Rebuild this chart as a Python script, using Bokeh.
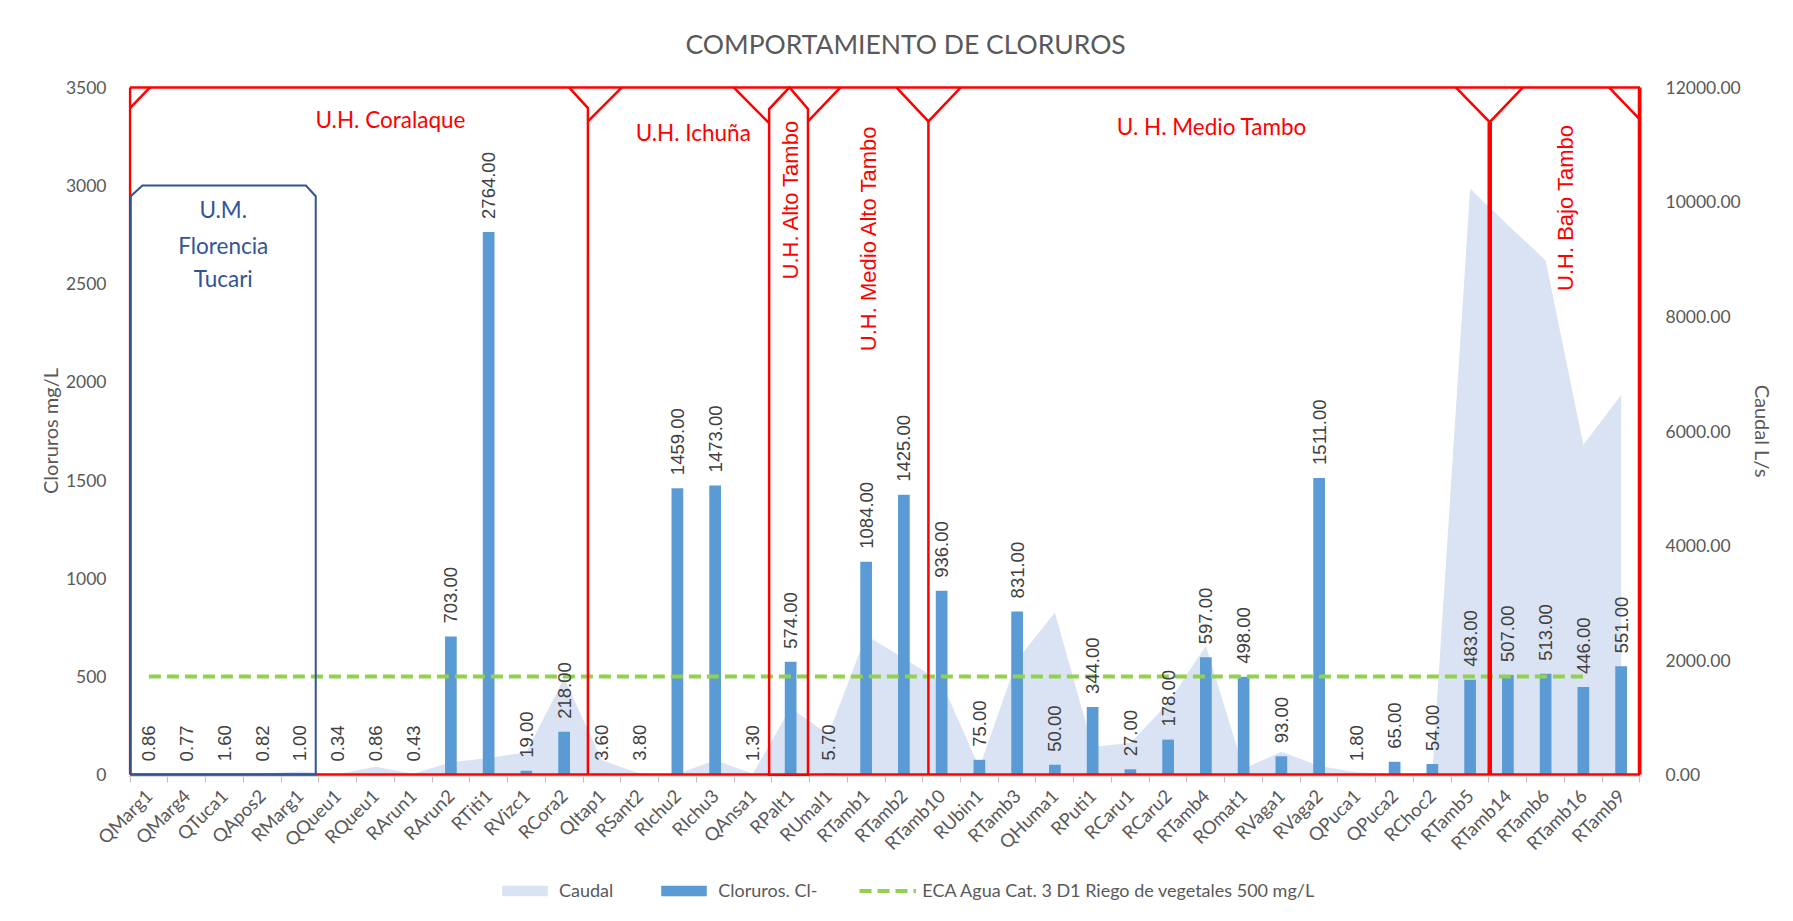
import math
from bokeh.plotting import figure
from bokeh.layouts import column
from bokeh.models import (Range1d, LinearAxis, FixedTicker, NumeralTickFormatter,
                          Legend, LegendItem, Title)
from bokeh.core.properties import value
from bokeh.embed import file_html
from bokeh.resources import INLINE

# ---------------- data ----------------
stations = ["QMarg1", "QMarg4", "QTuca1", "QApos2", "RMarg1", "QQueu1", "RQueu1", "RArun1",
            "RArun2", "RTiti1", "RVizc1", "RCora2", "QItap1", "RSant2", "RIchu2", "RIchu3",
            "QAnsa1", "RPalt1", "RUmal1", "RTamb1", "RTamb2", "RTamb10", "RUbin1", "RTamb3",
            "QHuma1", "RPuti1", "RCaru1", "RCaru2", "RTamb4", "ROmat1", "RVaga1", "RVaga2",
            "QPuca1", "QPuca2", "RChoc2", "RTamb5", "RTamb14", "RTamb6", "RTamb16", "RTamb9"]

cloruros = [0.86, 0.77, 1.60, 0.82, 1.00, 0.34, 0.86, 0.43,
            703.00, 2764.00, 19.00, 218.00, 3.60, 3.80, 1459.00, 1473.00,
            1.30, 574.00, 5.70, 1084.00, 1425.00, 936.00, 75.00, 831.00,
            50.00, 344.00, 27.00, 178.00, 597.00, 498.00, 93.00, 1511.00,
            1.80, 65.00, 54.00, 483.00, 507.00, 513.00, 446.00, 551.00]

caudal = [5, 5, 5, 20, 55, 5, 135, 15,
          215, 290, 390, 1680, 250, 20, 10, 250,
          15, 1160, 700, 2430, 2030, 1610, 120, 2000,
          2830, 480, 550, 1250, 2250, 100, 400, 150,
          40, 10, 30, 10230, 9600, 8980, 5760, 6630]

eca = [500, 500, 500, 500, 500, 500, 500, 500, 500, 500,
       500, 500, 500, 500, 500, 500, 500, 500, 500, 500,
       500, 500, 500, 500, 500, 500, 500, 500, 500, 500,
       500, 500, 500, 500, 500, 500, 500, 500, 500, float("nan")]

left_ticks = [0, 500, 1000, 1500, 2000, 2500, 3000, 3500]
right_ticks = [0, 2000, 4000, 6000, 8000, 10000, 12000]

# ---------------- styles ----------------
CAL = "Lato"
GREY = "#595959"
RED = "#FF0000"
BLUE = "#2F5597"
AREA_C = "#DAE3F3"
BAR_C = "#5B9BD5"
ECA_C = "#92D050"

n = len(stations)
xs = [i + 0.5 for i in range(n)]
labels = ["%.2f" % v for v in cloruros]

W = 1777
LB = 128
y0, y1 = -10, 3510
p = figure(width=W, height=875, output_backend="svg", toolbar_location=None,
           x_range=Range1d(-0.04, n + 0.04), y_range=Range1d(y0, y1),
           min_border_left=LB, min_border_right=134, min_border_top=84,
           min_border_bottom=99, background_fill_color="white",
           border_fill_color="white")
p.outline_line_color = None
p.grid.visible = False
p.extra_y_ranges = {"caudal": Range1d(y0 * 12000 / 3500, y1 * 12000 / 3500)}

# title
t = Title(text="COMPORTAMIENTO DE CLORUROS", align="left", offset=557,
          text_font=CAL, text_font_size="26.5px", text_font_style="normal",
          text_color=GREY, standoff=51)
p.add_layout(t, "above")

# x axis
xa = p.xaxis[0]
xa.ticker = FixedTicker(ticks=xs, minor_ticks=list(range(n + 1)))
xa.major_label_overrides = {x: s for x, s in zip(xs, stations)}
xa.major_label_orientation = math.pi / 4
xa.major_tick_line_color = None
xa.minor_tick_in = 0
xa.minor_tick_out = 6
xa.minor_tick_line_color = "#BFBFBF"
xa.axis_line_color = "#D9D9D9"
xa.major_label_text_font = CAL
xa.major_label_text_font_size = "18.5px"
xa.major_label_text_color = GREY
xa.major_label_standoff = 10

# left axis
ya = p.yaxis[0]
ya.ticker = FixedTicker(ticks=left_ticks)
ya.axis_line_color = None
ya.major_tick_line_color = None
ya.minor_tick_line_color = None
ya.major_label_text_font = CAL
ya.major_label_text_font_size = "17.5px"
ya.major_label_text_color = GREY
ya.major_label_standoff = 16
ya.axis_label = "Cloruros mg/L"
ya.axis_label_text_font = CAL
ya.axis_label_text_font_size = "20px"
ya.axis_label_text_font_style = "normal"
ya.axis_label_text_color = GREY
ya.axis_label_standoff = 1

# right axis
ra = LinearAxis(y_range_name="caudal", ticker=FixedTicker(ticks=right_ticks),
                formatter=NumeralTickFormatter(format="0.00"))
ra.axis_line_color = None
ra.major_tick_line_color = None
ra.minor_tick_line_color = None
ra.major_label_text_font = CAL
ra.major_label_text_font_size = "17.5px"
ra.major_label_text_color = GREY
ra.major_label_standoff = 18
ra.axis_label = "Caudal L/s"
ra.axis_label_text_font = CAL
ra.axis_label_text_font_size = "20px"
ra.axis_label_text_font_style = "normal"
ra.axis_label_text_color = GREY
ra.axis_label_standoff = 7
p.add_layout(ra, "right")

# series
p.varea(x=xs, y1=[0] * n, y2=caudal, y_range_name="caudal", fill_color=AREA_C)
p.vbar(x=xs, top=cloruros, width=0.31, fill_color=BAR_C, line_color=None)
p.line(x=xs, y=eca, line_color=ECA_C, line_width=4, line_dash="12 6")

p.text(x=xs, y=cloruros, text=labels, angle=math.pi / 2, text_align="left",
       text_baseline="middle", y_offset=-13, text_font=value("Liberation Sans"),
       text_font_size="18.5px", text_color="#404040")

# ---------------- hydrographic unit boxes ----------------
thin_lines = [
    ([0, n], [3500, 3500]),
    ([0, 0], [3500, 0]),
    ([0, n], [0, 0]),
    ([0, 0.53], [3395, 3500]),
    ([11.63, 12.13, 12.13], [3500, 3395, 0]),
    ([12.13, 13.03], [3327, 3500]),
    ([15.99, 16.93], [3500, 3318]),
    ([16.93, 16.93, 17.47, 17.96, 17.96, 16.93, 16.93],
     [-5, 3390, 3500, 3390, -5, -5, 3390]),
    ([17.96, 18.82], [3327, 3500]),
    ([20.30, 21.15, 22.01], [3500, 3327, 3500]),
    ([21.15, 21.15], [3327, 0]),
    ([35.12, 36.02, 36.90], [3500, 3323, 3500]),
    ([39.18, n], [3500, 3336]),
]
p.multi_line(xs=[l[0] for l in thin_lines], ys=[l[1] for l in thin_lines],
             line_color=RED, line_width=2.5, line_join="miter")
thick_lines = [
    ([36.02, 36.02], [3323, 0]),
    ([n, n], [3500, 0]),
]
p.multi_line(xs=[l[0] for l in thick_lines], ys=[l[1] for l in thick_lines],
             line_color=RED, line_width=4.5)

p.line(x=[0.02, 0.02, 0.33, 4.66, 4.92, 4.92, 0.02],
       y=[0, 2946, 3000, 3000, 2946, 0, 0], line_color=BLUE, line_width=2,
       line_join="miter")

# unit labels
p.text(x=[6.9, 14.92, 28.66], y=[3337, 3271, 3303],
       text=["U.H. Coralaque", "U.H. Ichuña", "U. H. Medio Tambo"],
       text_align="center", text_baseline="middle", text_font=value(CAL),
       text_font_size="22.5px", text_color=RED)
p.text(x=[17.49, 19.56, 38.03], y=[2930, 2733, 2887],
       text=["U.H. Alto Tambo", "U.H. Medio Alto Tambo", "U.H. Bajo Tambo"],
       angle=math.pi / 2, text_align="center", text_baseline="middle",
       text_font=value("Liberation Sans"), text_font_size="22px", text_color=RED)
p.text(x=[2.47, 2.47, 2.47], y=[2880, 2695, 2525],
       text=["U.M.", "Florencia", "Tucari"],
       text_align="center", text_baseline="middle", text_font=value(CAL),
       text_font_size="22.5px", text_color=BLUE)

# ---------------- legend strip ----------------
lg = figure(width=W, height=35, output_backend="svg", toolbar_location=None,
            x_range=Range1d(0, 1), y_range=Range1d(0, 1), min_border=0,
            background_fill_color="white", border_fill_color="white")
lg.outline_line_color = None
lg.axis.visible = False
lg.grid.visible = False
# legend-only swatches, kept outside the visible range of the strip
l_area = lg.varea(x=[5, 6], y1=[5, 5], y2=[6, 6], fill_color=AREA_C)
l_bar = lg.vbar(x=[5], top=[6], bottom=5, width=0.3, fill_color=BAR_C, line_color=None)
l_eca = lg.line(x=[5, 6], y=[5, 5], line_color=ECA_C, line_width=4, line_dash="12 6")
legend = Legend(items=[LegendItem(label="Caudal", renderers=[l_area]),
                       LegendItem(label="Cloruros. Cl-", renderers=[l_bar]),
                       LegendItem(label="ECA Agua Cat. 3 D1 Riego de vegetales 500 mg/L",
                                  renderers=[l_eca])],
                orientation="horizontal", location=(496 - LB, 9),
                label_text_font=CAL, label_text_font_size="18px",
                label_text_color=GREY, glyph_width=57, glyph_height=13,
                label_standoff=6, spacing=42, padding=0, margin=0,
                border_line_color=None, background_fill_alpha=0)
lg.add_layout(legend, "center")

layout = column(p, lg, spacing=0)
open("out.html", "w").write(file_html(layout, INLINE))
